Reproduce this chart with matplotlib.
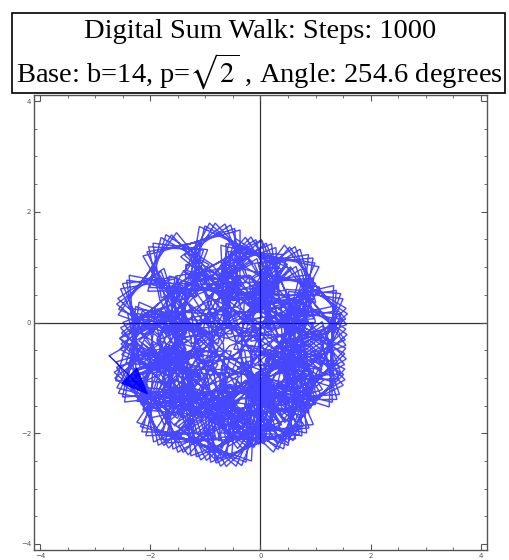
import numpy as np
import matplotlib
matplotlib.use("Agg")
import matplotlib.pyplot as plt
from matplotlib.patches import Rectangle, FancyArrowPatch

# Walk parameters (from the title)
steps = 1000
base = 14
p_exp = np.sqrt(2)
angle_deg = 254.6
title_line1 = "Digital Sum Walk: Steps: 1000"
title_line2 = r"Base: b=14, p=$\sqrt{2}$ , Angle: 254.6 degrees"
x_ticks_major = [-4, -2, 0, 2, 4]
y_ticks_major = [-4, -2, 0, 2, 4]
tick_labels = ["\u22124", "\u22122", "0", "2", "4"]


def weighted_digit_sum(n, b, p):
    # digit k of n (base b) weighted by b^(k(p-1))
    s, k = 0.0, 0
    while n > 0:
        s += (n % b) * b ** (k * (p - 1))
        n //= b
        k += 1
    return s

headings = -np.deg2rad(angle_deg) * np.array([weighted_digit_sum(n, base, p_exp) for n in range(steps)])
xs = np.concatenate([[0.0], np.cumsum(np.cos(headings))])
ys = np.concatenate([[0.0], np.cumsum(np.sin(headings))])

plt.rcParams['mathtext.fontset'] = 'stix'
fig = plt.figure(figsize=(5.1, 5.6), dpi=100)
ax = fig.add_axes([34/510, 10/560, (487-34)/510, (550-95)/560])
ax.plot(xs[:-1], ys[:-1], color=(0, 0, 1), lw=1.0, alpha=0.72, solid_joinstyle='miter')
ax.add_patch(FancyArrowPatch((xs[-2], ys[-2]), (xs[-1], ys[-1]),
                             arrowstyle='-|>,head_length=0.9,head_width=0.38', mutation_scale=20,
                             color=(0, 0, 1), lw=1.0, alpha=0.9, shrinkA=0, shrinkB=0))
ax.axhline(0, color='#333333', lw=0.9, zorder=0)
ax.axvline(0, color='#333333', lw=0.9, zorder=0)
ax.set_xlim(-4.11, 4.11)
ax.set_ylim(-4.11, 4.11)
ax.set_xticks(x_ticks_major)
ax.set_xticklabels(tick_labels)
ax.set_yticks(y_ticks_major)
ax.set_yticklabels(tick_labels)
ax.set_xticks(np.arange(-4, 4.01, 0.5), minor=True)
ax.set_yticks(np.arange(-4, 4.01, 0.5), minor=True)
ax.tick_params(which='both', direction='in', top=True, right=True, labelsize=5, colors='#555555', pad=2)
ax.tick_params(which='major', length=4, width=0.8)
ax.tick_params(which='minor', length=2, width=0.6)
for s in ax.spines.values():
    s.set_color('#555555')
    s.set_linewidth(1.0)

fig.patches.append(Rectangle((12/510, 1 - 93/560), (505-12)/510, (93-13)/560, transform=fig.transFigure,
                             fill=True, facecolor='white', edgecolor='black', lw=1.2, zorder=5))
fig.text(260/510, 1 - 31/560, title_line1, ha='center', va='center',
         fontsize=20.5, family='Liberation Serif', zorder=6)
fig.text(259/510, 1 - 72/560, title_line2, ha='center', va='center',
         fontsize=20.5, family='Liberation Serif', zorder=6)
fig.savefig("out.png", dpi=100)
